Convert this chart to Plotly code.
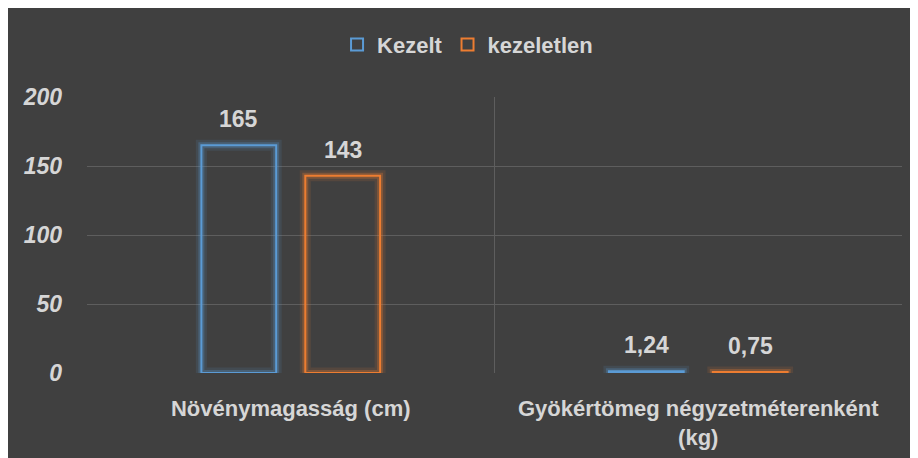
import plotly.graph_objects as go

categories = ["Növénymagasság (cm)", "Gyökértömeg négyzetméterenként<br>(kg)"]
series_names = ["Kezelt", "kezeletlen"]
kezelt = [165, 1.24]
kezeletlen = [143, 0.75]
kezelt_labels = ["165", "1,24"]
kezeletlen_labels = ["143", "0,75"]
y_ticks = [0, 50, 100, 150, 200]

colors = ["#5B9BD5", "#ED7D31"]
glow = [("rgba(91,155,213,0.12)", 11), ("rgba(91,155,213,0.28)", 6)]
glow_o = [("rgba(237,125,49,0.12)", 11), ("rgba(237,125,49,0.28)", 6)]

FONT = "Liberation Sans Narrow, Arial Narrow, Liberation Sans, Arial, sans-serif"
TXT = "#D6D6D6"
BG = "#404040"
GRID = "#5E5E5E"

fig = go.Figure()
series = [(series_names[0], kezelt, kezelt_labels, colors[0], glow, "a"),
          (series_names[1], kezeletlen, kezeletlen_labels, colors[1], glow_o, "b")]

for name, vals, labels, col, glows, og in series:
    for gcol, gw in glows:
        fig.add_trace(go.Bar(x=categories, y=vals, offsetgroup=og, showlegend=False,
                             marker=dict(color="rgba(0,0,0,0)", line=dict(color=gcol, width=gw)),
                             hoverinfo="skip"))
    fig.add_trace(go.Bar(x=categories, y=vals, name=name, offsetgroup=og,
                         marker=dict(color="rgba(0,0,0,0)", line=dict(color=col, width=2))))

# value labels
for name, vals, labels, col, glows, og in series:
    shift = -52 if og == "a" else 52
    for c, v, t in zip(categories, vals, labels):
        fig.add_annotation(x=c, y=v, text=t, showarrow=False, xshift=shift, yshift=11,
                           yanchor="bottom", font=dict(family=FONT, size=23, color=TXT, weight="bold"))

W, H = 910, 450
L, R, T, B = 79, 16, 89, 85

fig.update_layout(
    width=W, height=H,
    margin=dict(l=L, r=R, t=T, b=B),
    paper_bgcolor=BG, plot_bgcolor=BG,
    barmode="group", bargap=0.49, bargroupgap=0.28,
    font=dict(family=FONT, color=TXT, size=22, weight="bold"),
    legend=dict(orientation="h", xref="container", x=0.505, xanchor="center",
                yref="container", y=0.965, yanchor="top",
                font=dict(family=FONT, size=22, color=TXT, weight="bold"),
                bgcolor="rgba(0,0,0,0)"),
    showlegend=True,
)
fig.update_xaxes(type="category", tickson="boundaries", showgrid=True, gridcolor=GRID,
                 gridwidth=1, ticks="", ticklabelstandoff=20, showline=False, automargin=False,
                 tickfont=dict(family=FONT, size=22, color=TXT, weight="bold"))
fig.update_yaxes(range=[0, 200], tickvals=y_ticks, showgrid=True, gridcolor=GRID,
                 zeroline=False, ticks="", ticklabelstandoff=24, automargin=False,
                 tickfont=dict(family=FONT, size=23, color=TXT, style="italic", weight="bold"))

fig.write_html("out.html")
